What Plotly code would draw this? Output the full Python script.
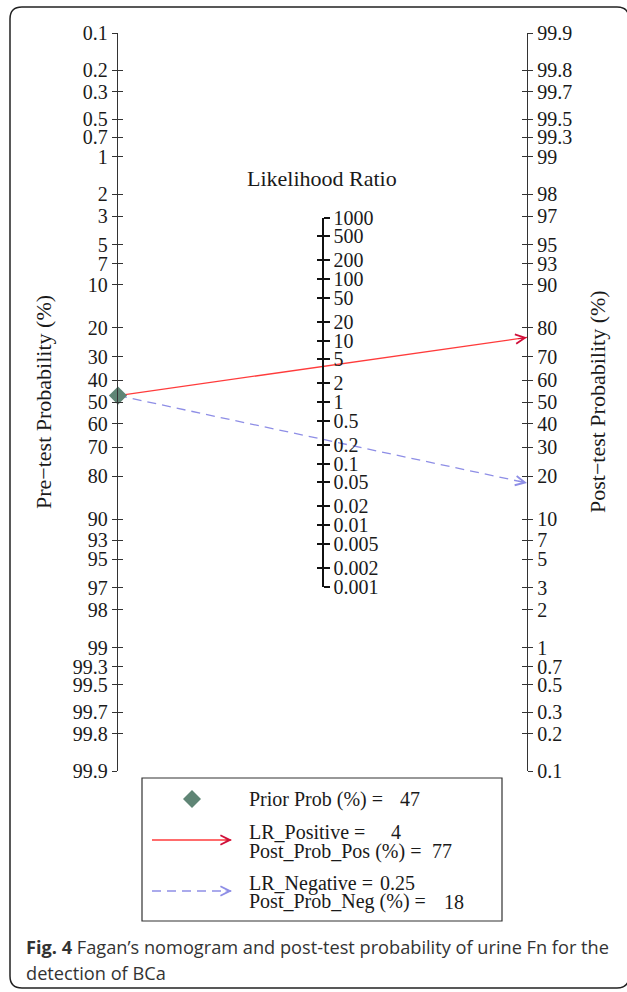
import numpy as np
import plotly.graph_objects as go

# ---------------- data ----------------
prior_prob = 47          # pre-test probability (%)
lr_positive = 4
post_prob_pos = 77       # post-test probability after positive test (%)
lr_negative = 0.25
post_prob_neg = 18       # post-test probability after negative test (%)

prob_ticks = [0.1, 0.2, 0.3, 0.5, 0.7, 1, 2, 3, 5, 7, 10, 20, 30, 40, 50, 60, 70,
              80, 90, 93, 95, 97, 98, 99, 99.3, 99.5, 99.7, 99.8, 99.9]
lr_ticks = [1000, 500, 200, 100, 50, 20, 10, 5, 2, 1, 0.5, 0.2, 0.1, 0.05, 0.02,
            0.01, 0.005, 0.002, 0.001]

# ---------------- scales ----------------
def logit(p):
    p = np.asarray(p, dtype=float) / 100.0
    return np.log(p / (1 - p))

def u_pre(p):      # left axis, 0.1 at top
    return -logit(p)

def u_post(p):     # right axis, 99.9 at top
    return logit(p)

def u_lr(lr):      # middle axis
    return np.log(np.asarray(lr, dtype=float)) / 2.0

def fmt(v):
    return "%g" % v

L = float(logit(99.9))
LRMAX = float(u_lr(1000))

W, H = 627, 992
ML, MR, MT, MB = 118, 100, 33, 221
PW, PH = W - ML - MR, H - MT - MB

def px(x):
    return (x - ML) / PW

def py(y):
    return (H - MB - y) / PH

SERIF = "Liberation Serif"
TXT = "#1a1a1a"
RED = "#ff3b3b"
RED_HEAD = "#d0103a"
BLUE = "#8e8ee6"
DIAM = "#5f8575"

fig = go.Figure()

# dummy traces so every axis is registered
for ya in ["y2", "y3", "y4", "y5", "y6"]:
    fig.add_trace(go.Scatter(x=[None], y=[None], xaxis="x", yaxis=ya,
                             showlegend=False, hoverinfo="skip"))

# lines
y0p, y1p = float(u_pre(prior_prob)), float(u_post(post_prob_pos))
y1n = float(u_post(post_prob_neg))
fig.add_trace(go.Scatter(x=[0, 1], y=[y0p, y1p], mode="lines",
                         line=dict(color=RED, width=1.3), showlegend=False,
                         cliponaxis=False, hoverinfo="skip"))
fig.add_trace(go.Scatter(x=[0, 1], y=[y0p, y1n], mode="lines",
                         line=dict(color=BLUE, width=1.3, dash="9px,6px"),
                         showlegend=False, cliponaxis=False, hoverinfo="skip"))
fig.add_trace(go.Scatter(x=[0], y=[y0p], mode="markers",
                         marker=dict(symbol="diamond", size=14, color=DIAM),
                         showlegend=False, cliponaxis=False, hoverinfo="skip"))

anns = []
t = 0.975
for yend, col in [(y1p, RED_HEAD), (y1n, BLUE)]:
    anns.append(dict(x=1, y=yend, xref="x", yref="y",
                     ax=t, ay=y0p + (yend - y0p) * t, axref="x", ayref="y",
                     showarrow=True, arrowhead=5, arrowsize=1.7, arrowwidth=1.1,
                     arrowcolor=col, text=""))

# axis titles
anns.append(dict(x=px(322), y=py(178), xref="paper", yref="paper",
                 text="Likelihood Ratio", showarrow=False, xanchor="center",
                 yanchor="middle", font=dict(family=SERIF, size=22, color=TXT)))
anns.append(dict(x=px(43), y=py(402), xref="paper", yref="paper",
                 text="Pre\u2212test Probability (%)", showarrow=False, textangle=-90,
                 xanchor="center", yanchor="middle",
                 font=dict(family=SERIF, size=22, color=TXT)))
anns.append(dict(x=px(597), y=py(402), xref="paper", yref="paper",
                 text="Post\u2212test Probability (%)", showarrow=False, textangle=-90,
                 xanchor="center", yanchor="middle",
                 font=dict(family=SERIF, size=22, color=TXT)))

# legend texts
leg_rows = [
    ("Prior Prob (%) =", fmt(prior_prob), 799, 398),
    ("LR_Positive =", fmt(lr_positive), 832, 389),
    ("Post_Prob_Pos (%) =", fmt(post_prob_pos), 851, 430),
    ("LR_Negative =", fmt(lr_negative), 883, 378),
    ("Post_Prob_Neg (%) =", fmt(post_prob_neg), 902, 442),
]
for lab, val, yy, xv in leg_rows:
    anns.append(dict(x=px(247), y=py(yy), xref="paper", yref="paper", text=lab,
                     showarrow=False, xanchor="left", yanchor="middle",
                     font=dict(family=SERIF, size=20, color=TXT)))
    anns.append(dict(x=px(xv), y=py(yy), xref="paper", yref="paper", text=val,
                     showarrow=False, xanchor="left", yanchor="middle",
                     font=dict(family=SERIF, size=20, color=TXT)))

# legend arrowheads
for yy, col in [(840, RED_HEAD), (891, BLUE)]:
    anns.append(dict(x=px(232), y=py(yy), xref="paper", yref="paper",
                     ax=-8, ay=0, showarrow=True, arrowhead=5, arrowsize=1.7,
                     arrowwidth=1.1, arrowcolor=col, text=""))

# caption
anns.append(dict(x=px(24), y=py(947), xref="paper", yref="paper",
                 text="<b>Fig. 4</b> Fagan\u2019s nomogram and post-test probability of urine Fn for the",
                 showarrow=False, xanchor="left", yanchor="middle",
                 font=dict(family="Open Sans", size=18.2, color="#333333")))
anns.append(dict(x=px(24), y=py(973), xref="paper", yref="paper",
                 text="detection of BCa", showarrow=False, xanchor="left", yanchor="middle",
                 font=dict(family="Open Sans", size=18.2, color="#333333")))

shapes = []
# legend box
shapes.append(dict(type="rect", xref="paper", yref="paper",
                   x0=px(142), x1=px(502), y0=py(778), y1=py(921),
                   line=dict(color="#333333", width=1.2), fillcolor="rgba(0,0,0,0)"))
shapes.append(dict(type="line", xref="paper", yref="paper",
                   x0=px(152), x1=px(231), y0=py(840), y1=py(840),
                   line=dict(color=RED, width=1.3)))
shapes.append(dict(type="line", xref="paper", yref="paper",
                   x0=px(152), x1=px(231), y0=py(891), y1=py(891),
                   line=dict(color=BLUE, width=1.3, dash="9px,6px")))
# legend diamond
cx, cy, r = 192, 799, 9
shapes.append(dict(type="path", xref="paper", yref="paper",
                   path="M%f,%f L%f,%f L%f,%f L%f,%f Z" % (
                       px(cx), py(cy - r), px(cx + r), py(cy), px(cx), py(cy + r),
                       px(cx - r), py(cy)),
                   fillcolor=DIAM, line=dict(width=0)))

# rounded outer border
bx0, bx1, by0, by1, rr = 10, 629, 7, 988, 12
path = ("M%f,%f L%f,%f Q%f,%f %f,%f L%f,%f Q%f,%f %f,%f L%f,%f Q%f,%f %f,%f "
        "L%f,%f Q%f,%f %f,%f Z") % (
    px(bx0 + rr), py(by0), px(bx1 - rr), py(by0), px(bx1), py(by0), px(bx1), py(by0 + rr),
    px(bx1), py(by1 - rr), px(bx1), py(by1), px(bx1 - rr), py(by1),
    px(bx0 + rr), py(by1), px(bx0), py(by1), px(bx0), py(by1 - rr),
    px(bx0), py(by0 + rr), px(bx0), py(by0), px(bx0 + rr), py(by0))
shapes.append(dict(type="path", xref="paper", yref="paper", path=path,
                   line=dict(color="#222222", width=1.5)))

tickfont = dict(family=SERIF, size=20, color=TXT)
common = dict(showgrid=False, zeroline=False, tickmode="array", autorange=False,
              fixedrange=True)

fig.update_layout(
    width=W, height=H, autosize=False,
    margin=dict(l=ML, r=MR, t=MT, b=MB),
    paper_bgcolor="white", plot_bgcolor="rgba(0,0,0,0)",
    showlegend=False,
    xaxis=dict(range=[0, 1], visible=False, fixedrange=True),
    yaxis=dict(range=[-L, L], tickvals=list(u_pre(prob_ticks)),
               ticktext=[fmt(v) for v in prob_ticks], ticks="outside", ticklen=5,
               tickwidth=1.2, tickcolor="#333", showline=True, linecolor="#333",
               linewidth=1.3, tickfont=tickfont, side="left", anchor="x", **common),
    yaxis4=dict(range=[-L, L], tickvals=list(u_pre(prob_ticks)), ticks="inside",
                ticklen=5, tickwidth=1.2, tickcolor="#333", showticklabels=False,
                showline=False, overlaying="y", side="left", anchor="x", **common),
    yaxis2=dict(range=[-L, L], tickvals=list(u_post(prob_ticks)),
                ticktext=[fmt(v) for v in prob_ticks], ticks="outside", ticklen=5,
                tickwidth=1.2, tickcolor="#333", showline=True, linecolor="#333",
                linewidth=1.3, tickfont=tickfont, side="right", overlaying="y",
                anchor="x", **common),
    yaxis5=dict(range=[-L, L], tickvals=list(u_post(prob_ticks)), ticks="inside",
                ticklen=5, tickwidth=1.2, tickcolor="#333", showticklabels=False,
                showline=False, side="right", overlaying="y", anchor="x", **common),
    yaxis3=dict(range=[-LRMAX, LRMAX], domain=[0.25, 0.75], anchor="free", position=0.5,
                tickvals=list(u_lr(lr_ticks)), ticktext=[fmt(v) for v in lr_ticks],
                ticks="outside", ticklen=6, tickwidth=2, tickcolor="#111",
                showline=True, linecolor="#111", linewidth=2, tickfont=tickfont,
                side="right", **common),
    yaxis6=dict(range=[-LRMAX, LRMAX], domain=[0.25, 0.75], anchor="free", position=0.5,
                tickvals=list(u_lr(lr_ticks)), ticks="inside", ticklen=6, tickwidth=2,
                tickcolor="#111", showticklabels=False, showline=False, side="right",
                **common),
    annotations=anns,
    shapes=shapes,
)

fig.write_html("out.html",
               config={"displayModeBar": False},
               post_script="document.body.style.margin='0';document.body.style.overflow='hidden';")
